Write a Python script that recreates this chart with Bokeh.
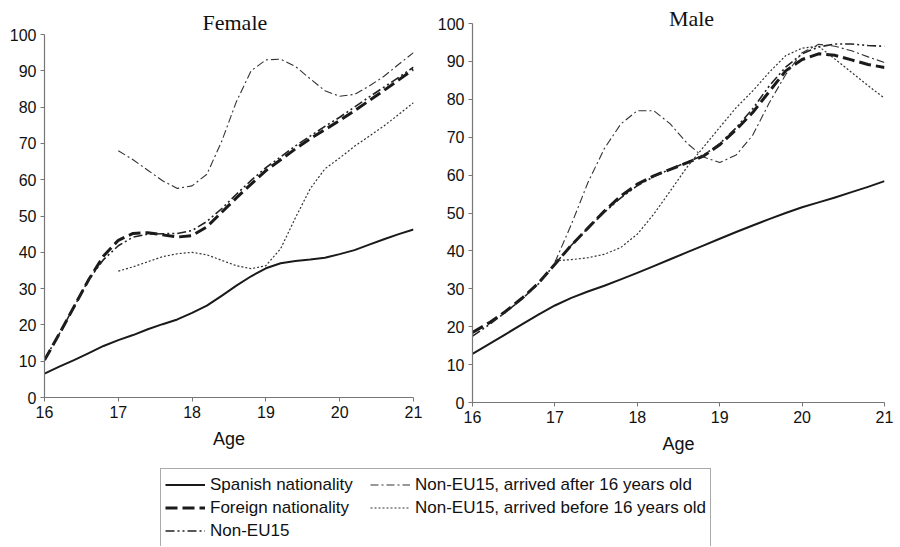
from bokeh.plotting import figure
from bokeh.layouts import column, row
from bokeh.models import Legend, LegendItem, FixedTicker, Range1d, Label
from bokeh.embed import file_html
from bokeh.resources import INLINE

# ---------------- data ----------------
ages = [16.0, 16.2, 16.4, 16.6, 16.8, 17.0, 17.2, 17.4, 17.6, 17.8, 18.0, 18.2, 18.4,
        18.6, 18.8, 19.0, 19.2, 19.4, 19.6, 19.8, 20.0, 20.2, 20.4, 20.6, 20.8, 21.0]
ages_arrived = [17.0, 17.2, 17.4, 17.6, 17.8, 18.0, 18.2, 18.4, 18.6, 18.8, 19.0, 19.2,
                19.4, 19.6, 19.8, 20.0, 20.2, 20.4, 20.6, 20.8, 21.0]

female_spanish = [6.6, 8.5, 10.3, 12.2, 14.2, 15.8, 17.2, 18.8, 20.2, 21.5, 23.3, 25.3, 28.0,
                  30.8, 33.4, 35.6, 37.0, 37.6, 38.0, 38.5, 39.5, 40.6, 42.1, 43.6, 45.0, 46.3]
female_foreign = [10.3, 17.5, 25.0, 32.5, 39.0, 43.3, 45.2, 45.4, 44.8, 44.2, 44.6, 47.0, 51.0,
                  55.0, 58.8, 62.5, 65.5, 68.5, 71.3, 73.8, 76.3, 79.0, 81.8, 84.6, 87.5, 90.4]
female_noneu15 = [10.5, 17.5, 25.0, 32.5, 38.0, 41.8, 44.2, 45.0, 45.1, 45.2, 46.0, 48.5, 52.0,
                  56.0, 59.8, 63.3, 66.3, 69.3, 72.0, 74.7, 77.2, 80.0, 82.8, 85.5, 88.2, 91.0]
female_after16 = [68.0, 65.5, 62.6, 59.7, 57.6, 58.3, 61.5, 70.5, 81.5, 90.0, 93.0, 93.2,
                  91.2, 87.8, 84.5, 83.0, 83.5, 85.8, 88.5, 91.8, 95.0]
female_before16 = [34.8, 36.0, 37.4, 38.8, 39.6, 40.0, 39.3, 37.8, 36.3, 35.5, 36.3, 41.0,
                   49.5, 57.5, 63.0, 66.0, 69.2, 72.0, 74.8, 78.0, 81.2]

male_spanish = [12.8, 15.4, 18.0, 20.6, 23.2, 25.6, 27.6, 29.3, 30.8, 32.5, 34.2, 36.0, 37.8,
                39.6, 41.4, 43.2, 45.0, 46.7, 48.4, 50.0, 51.5, 52.8, 54.1, 55.5, 56.9, 58.4]
male_foreign = [18.5, 21.0, 24.0, 27.5, 31.5, 36.5, 41.5, 46.0, 50.5, 54.5, 57.6, 59.8, 61.5,
                63.2, 65.0, 68.0, 72.0, 76.5, 82.0, 87.5, 90.5, 92.0, 91.6, 90.4, 89.2, 88.4]
male_noneu15 = [17.5, 20.5, 23.8, 27.3, 31.3, 36.5, 41.5, 46.0, 50.2, 54.0, 57.2, 59.6, 61.6,
                63.4, 65.2, 68.3, 72.5, 77.5, 83.5, 88.5, 92.0, 93.8, 94.6, 94.6, 94.2, 94.0]
male_after16 = [37.0, 47.0, 58.0, 67.0, 73.5, 77.0, 77.0, 73.5, 68.5, 64.8, 63.3, 65.3,
                70.5, 79.0, 86.5, 92.3, 94.5, 94.0, 92.8, 91.2, 89.7]
male_before16 = [37.4, 37.7, 38.2, 39.1, 40.9, 44.4, 49.7, 55.8, 62.0, 67.3, 72.6, 77.8,
                 82.2, 87.1, 91.5, 93.5, 94.0, 90.6, 87.1, 83.6, 80.3]

x_ticks = [16, 17, 18, 19, 20, 21]
y_ticks = [0, 10, 20, 30, 40, 50, 60, 70, 80, 90, 100]

series_labels = ["Spanish nationality", "Foreign nationality", "Non-EU15",
                 "Non-EU15, arrived after 16 years old",
                 "Non-EU15, arrived before 16 years old"]

# ---------------- styles ----------------
styles = [
    dict(line_color="#1a1a1a", line_width=2.0, line_dash="solid"),
    dict(line_color="#1a1a1a", line_width=3.0, line_dash="12 5"),
    dict(line_color="#222222", line_width=1.6, line_dash="9 3 2 3 2 3"),
    dict(line_color="#333333", line_width=1.1, line_dash="8 3 2 3"),
    dict(line_color="#333333", line_width=1.2, line_dash="2 2"),
]

SANS = "Liberation Sans"
SERIF = "Liberation Serif"


def make_panel(width, height, mbl, mbr, mbt, mbb, y_top):
    p = figure(width=width, height=height, x_range=Range1d(16, 21), y_range=Range1d(0, y_top),
               output_backend="svg", toolbar_location=None,
               min_border_left=mbl, min_border_right=mbr,
               min_border_top=mbt, min_border_bottom=mbb)
    p.frame_align = False
    p.xgrid.visible = False
    p.ygrid.visible = False
    p.outline_line_color = None
    p.background_fill_color = "white"
    p.border_fill_color = "white"
    p.xaxis.ticker = FixedTicker(ticks=x_ticks)
    p.yaxis.ticker = FixedTicker(ticks=y_ticks)
    p.yaxis.bounds = (y_ticks[0], y_ticks[-1])
    for ax in (p.xaxis[0], p.yaxis[0]):
        ax.axis_line_color = "#777777"
        ax.axis_line_width = 1.2
        ax.major_tick_line_color = "#777777"
        ax.major_tick_out = 4
        ax.major_tick_in = 0
        ax.minor_tick_out = 0
        ax.minor_tick_in = 0
        ax.major_label_text_font = SANS
        ax.major_label_text_font_size = "16px"
        ax.major_label_text_color = "#111111"
        ax.major_label_standoff = 4
    p.xaxis.axis_label = "Age"
    p.xaxis.axis_label_text_font = SANS
    p.xaxis.axis_label_text_font_size = "18px"
    p.xaxis.axis_label_text_font_style = "normal"
    p.xaxis.axis_label_text_color = "#111111"
    p.xaxis.axis_label_standoff = 8
    return p


def draw(p, values):
    xs = [ages, ages, ages, ages_arrived, ages_arrived]
    rs = []
    for x, y, st in zip(xs, values, styles):
        rs.append(p.line(x=x, y=y, line_join="round", **st))
    return rs


female_values = [female_spanish, female_foreign, female_noneu15, female_after16, female_before16]
male_values = [male_spanish, male_foreign, male_noneu15, male_after16, male_before16]

# Female panel (page x 0..434)
p1 = make_panel(434, 460, 44, 21, 34, 63, 100)
p1.title.text = "Female"
p1.title.text_font = SERIF
p1.title.text_font_size = "22px"
p1.title.text_font_style = "normal"
p1.title.text_color = "#111111"
p1.title.align = "left"
p1.title.offset = 158
p1.title.standoff = 0
draw(p1, female_values)

# Male panel (page x 434..898): the frame reaches a little above 100 so that the
# title can overlap the top of the axis as in the original; the axis stops at 100.
p2 = make_panel(464, 465, 34, 14, 8, 63, 103.96)
draw(p2, male_values)
p2.add_layout(Label(x=219, y=384, x_units="screen", y_units="screen", text="Male",
                    text_font=SERIF, text_font_size="22px", text_color="#111111",
                    text_align="center", text_baseline="alphabetic"))

# Legend panel: the series are drawn outside its (hidden) ranges, only the legend shows
p3 = figure(width=898, height=81, output_backend="svg", toolbar_location=None,
            x_range=Range1d(0, 1), y_range=Range1d(0, 1),
            min_border_left=160, min_border_top=3, min_border_right=0, min_border_bottom=0,
            x_axis_location=None, y_axis_location=None)
p3.frame_align = False
p3.xgrid.visible = False
p3.ygrid.visible = False
p3.outline_line_color = None
rs3 = draw(p3, female_values)
items = [LegendItem(label=lab, renderers=[r]) for lab, r in zip(series_labels, rs3)]
legend = Legend(items=items, location="top_left", orientation="vertical", nrows=3,
                border_line_color="#555555", border_line_width=1,
                label_text_font=SANS, label_text_font_size="17px", label_text_color="#111111",
                glyph_width=40, glyph_height=23, label_height=23, label_width=160,
                label_standoff=5, padding=4, spacing=0, margin=0)
p3.add_layout(legend)

layout = column(row(p1, p2), p3)
open("out.html", "w").write(file_html(layout, INLINE))
